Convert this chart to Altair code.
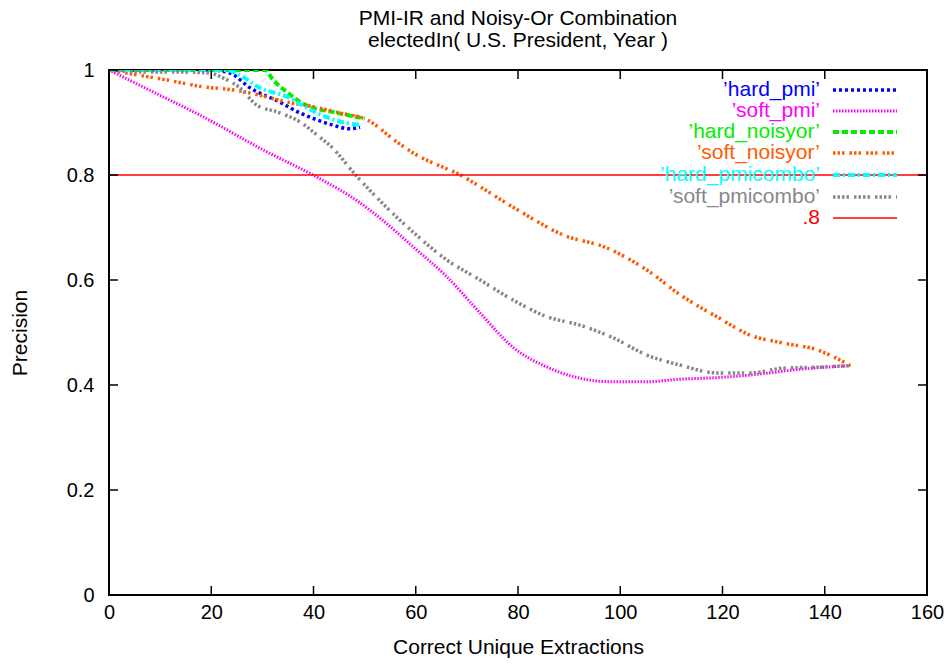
import altair as alt
import pandas as pd

# ---- series ----
hard_pmi_x = [0, 5, 10, 15, 20, 23.7, 27.6, 33.4, 37.4, 40.7, 43.8, 47.1, 49.1]
hard_pmi_y = [1, 1, 1, 1, 1, 0.994, 0.966, 0.939, 0.918, 0.905, 0.895, 0.888, 0.891]

soft_pmi_x = [0, 8.9, 17.8, 30.9, 39.9, 49.1, 53, 59.5, 66.1, 72.6, 79, 85.7, 92.1, 98.6,
              105.2, 111.7, 118.9, 125.4, 135.2, 145]
soft_pmi_y = [1, 0.957, 0.914, 0.844, 0.8, 0.747, 0.718, 0.663, 0.606, 0.537, 0.472, 0.434,
              0.413, 0.406, 0.406, 0.411, 0.414, 0.419, 0.43, 0.437]

hard_noisyor_x = [0, 10, 20, 30.5, 32.1, 34.8, 37.4, 39.3, 43.8, 48.7, 50]
hard_noisyor_y = [1, 1, 1, 1, 0.981, 0.958, 0.939, 0.930, 0.920, 0.910, 0.907]

soft_noisyor_x = [0, 3.5, 11.3, 18.4, 24.3, 29.5, 34.8, 39.9, 45.2, 50.5, 56.3, 59.5, 68.7,
                  79, 88.8, 97.4, 105.2, 112.3, 118.9, 125.4, 131.8, 138.5, 145]
soft_noisyor_y = [1, 0.994, 0.981, 0.968, 0.962, 0.952, 0.939, 0.930, 0.918, 0.905, 0.863,
                  0.842, 0.8, 0.739, 0.686, 0.661, 0.619, 0.568, 0.53, 0.495, 0.48, 0.467, 0.437]

hard_pmicombo_x = [0, 10, 20, 23, 25.6, 29.5, 34.8, 38.7, 42.6, 46.5, 49.5]
hard_pmicombo_y = [1, 1, 1, 1, 0.99, 0.966, 0.949, 0.928, 0.910, 0.899, 0.895]

soft_pmicombo_x = [0, 8, 14.5, 19.8, 22.3, 25.6, 28.9, 32.9, 37.4, 40.7, 43.8, 47.7, 53.3,
                   59.5, 66.1, 72.6, 79, 85.7, 92.1, 98.6, 105.2, 111.7, 118.9, 125.4, 131.8,
                   138.5, 145]
soft_pmicombo_y = [1, 0.996, 0.996, 0.994, 0.985, 0.966, 0.933, 0.92, 0.901, 0.876, 0.851,
                   0.806, 0.748, 0.691, 0.638, 0.6, 0.562, 0.53, 0.514, 0.49, 0.457, 0.438,
                   0.423, 0.423, 0.432, 0.434, 0.437]

# constant .8 precision reference line
ref_x = [0, 160]
ref_y = [0.8, 0.8]

x_ticks = [0, 20, 40, 60, 80, 100, 120, 140, 160]
y_ticks = [0, 0.2, 0.4, 0.6, 0.8, 1.0]

FONT = "Liberation Sans"
W, H = 818, 525

# name, x, y, colour, dash, width
series = [
    ("’hard_pmi’", hard_pmi_x, hard_pmi_y, "#0000ff", [3, 3], 3.5),
    ("’soft_pmi’", soft_pmi_x, soft_pmi_y, "#ff00ff", [1.5, 1.5], 3),
    ("’hard_noisyor’", hard_noisyor_x, hard_noisyor_y, "#00ee00", [6, 3], 4),
    ("’soft_noisyor’", soft_noisyor_x, soft_noisyor_y, "#ff5a00", [2.5, 2, 2.5, 2, 2.5, 5], 3.5),
    ("’hard_pmicombo’", hard_pmicombo_x, hard_pmicombo_y, "#00ffff", [7, 3, 2, 3], 4),
    ("’soft_pmicombo’", soft_pmicombo_x, soft_pmicombo_y, "#888888", [2.5, 2, 2.5, 2, 2.5, 2, 2.5, 5], 3.5),
    (".8", ref_x, ref_y, "#ff0000", None, 1.6),
]

x_scale = alt.Scale(domain=[0, 160], nice=False, zero=False)
y_scale = alt.Scale(domain=[0, 1], nice=False, zero=False)

x_axis = alt.Axis(values=x_ticks, format="d", ticks=False, domain=False, grid=False,
                  labelFont=FONT, labelFontSize=20, labelColor="black", labelPadding=7,
                  title="Correct Unique Extractions", titleFont=FONT, titleFontSize=21,
                  titleFontWeight="normal", titleColor="black", titlePadding=14,
                  labelFlush=False)
y_axis = alt.Axis(values=y_ticks, format="~g", ticks=False, domain=False, grid=False,
                  labelFont=FONT, labelFontSize=20, labelColor="black", labelPadding=15,
                  title="Precision", titleFont=FONT, titleFontSize=21,
                  titleFontWeight="normal", titleColor="black", titlePadding=36,
                  labelFlush=False)

X = alt.X("x:Q", scale=x_scale, axis=x_axis, title="Correct Unique Extractions")
Y = alt.Y("y:Q", scale=y_scale, axis=y_axis, title="Precision")

layers = []

# curves
for name, xs, ys, col, dash, sw in series:
    if dash is None:
        # straight solid reference across the full width
        df = pd.DataFrame({"x": [xs[0]], "x2": [xs[-1]], "y": [ys[0]]})
        layers.append(alt.Chart(df).mark_rule(
            color=col, stroke=col, strokeWidth=sw
        ).encode(x=X, x2="x2:Q", y=Y))
        continue
    df = pd.DataFrame({"x": xs, "y": ys})
    layers.append(alt.Chart(df).mark_line(
        color=col, stroke=col, strokeWidth=sw, strokeDash=dash,
        interpolate="monotone", clip=True
    ).encode(x=X, y=Y))

# inward tick marks on all four sides
xt = pd.DataFrame({"x": x_ticks})
yt = pd.DataFrame({"y": y_ticks})
tick_style = dict(color="black", strokeWidth=1.5)
layers.append(alt.Chart(xt).mark_rule(**tick_style).encode(
    x=X, y=alt.value(H), y2=alt.value(H - 9)))
layers.append(alt.Chart(xt).mark_rule(**tick_style).encode(
    x=X, y=alt.value(0), y2=alt.value(9)))
layers.append(alt.Chart(yt).mark_rule(**tick_style).encode(
    y=Y, x=alt.value(0), x2=alt.value(9)))
layers.append(alt.Chart(yt).mark_rule(**tick_style).encode(
    y=Y, x=alt.value(W), x2=alt.value(W - 9)))

# key box in the upper right: label text then line sample
row_y = [20, 41, 62, 83, 105, 127, 148]
for (name, xs, ys, col, dash, sw), ry in zip(series, row_y):
    lab = pd.DataFrame({"label": [name]})
    layers.append(alt.Chart(lab).mark_text(
        align="right", baseline="middle", font=FONT, fontSize=21, color=col
    ).encode(text="label:N", x=alt.value(711), y=alt.value(ry)))
    kw = dict(color=col, stroke=col, strokeWidth=sw if dash else 1.6)
    if dash:
        kw["strokeDash"] = dash
    layers.append(alt.Chart(lab).mark_rule(**kw).encode(
        x=alt.value(724), x2=alt.value(788), y=alt.value(ry)))

chart = alt.layer(*layers).properties(
    width=W, height=H,
    title=alt.TitleParams(
        text=["PMI-IR and Noisy-Or Combination", "electedIn( U.S. President, Year )"],
        font=FONT, fontSize=21, fontWeight="normal", color="black",
        anchor="middle", offset=9, lineHeight=22),
    padding={"left": 109, "top": 70, "right": 21, "bottom": 69},
    autosize=alt.AutoSizeParams(type="none"),
    background="white",
).configure_view(stroke="black", strokeWidth=2)

chart.save("out.html", embed_options={"renderer": "svg", "actions": False})
